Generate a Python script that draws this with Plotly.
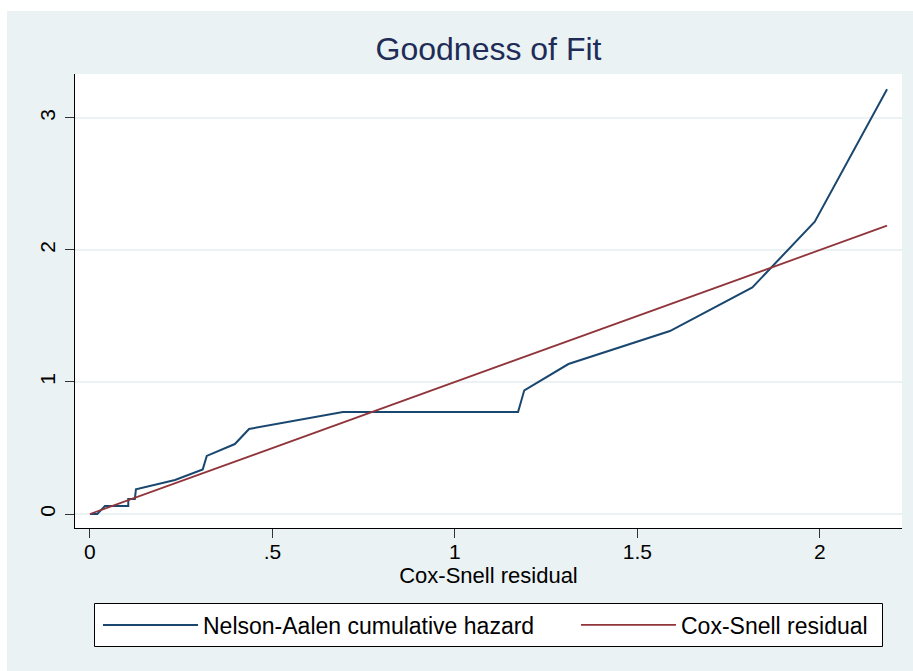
import plotly.graph_objects as go

# Nelson-Aalen cumulative hazard vs Cox-Snell residual
na_x = [0, 0.02, 0.041, 0.105, 0.105, 0.123, 0.126, 0.233, 0.309, 0.320, 0.397, 0.436,
        0.693, 1.173, 1.19, 1.311, 1.589, 1.815, 1.986, 2.184]
na_y = [0, 0, 0.06, 0.06, 0.114, 0.114, 0.187, 0.258, 0.338, 0.44, 0.53, 0.644,
        0.773, 0.773, 0.937, 1.136, 1.386, 1.717, 2.214, 3.217]
# Cox-Snell residuals (reference line r vs r)
cs_r = [0, 0.02, 0.041, 0.105, 0.123, 0.233, 0.309, 0.320, 0.397, 0.436,
        0.693, 1.173, 1.19, 1.311, 1.589, 1.815, 1.986, 2.184]

x_tickvals = [0, 0.5, 1, 1.5, 2]
x_ticktext = ["0", ".5", "1", "1.5", "2"]
y_tickvals = [0, 1, 2, 3]
y_ticktext = ["0", "1", "2", "3"]

BG = "#EAF2F3"
BLUE = "#1A476F"
RED = "#90353B"
FONT = "Liberation Sans, Arial, sans-serif"

fig = go.Figure()
fig.add_trace(go.Scatter(x=na_x, y=na_y, mode="lines", name="Nelson-Aalen cumulative hazard",
                         line=dict(color=BLUE, width=2), legendwidth=368))
fig.add_trace(go.Scatter(x=cs_r, y=cs_r, mode="lines", name="Cox-Snell residual",
                         line=dict(color=RED, width=1.8)))

W, H = 913, 671
L, R, T, B = 75, 11, 74, 143
pw, ph = W - L - R, H - T - B

def px2x(px):
    return (px - L) / pw

def py2y(py):
    return (H - B - py) / ph

fig.update_layout(
    width=W, height=H,
    margin=dict(l=L, r=R, t=T, b=B, autoexpand=False),
    paper_bgcolor=BG, plot_bgcolor="white",
    font=dict(family=FONT, size=21, color="black"),
    title=dict(text="Goodness of Fit", x=0.5, xanchor="center", xref="paper",
               y=1 - 49 / H, yanchor="middle", yref="container",
               font=dict(size=32, color="#1E2C57")),
    showlegend=True,
    legend=dict(orientation="h", x=px2x(98), xanchor="left", y=py2y(625), yanchor="middle",
                bgcolor="rgba(0,0,0,0)", borderwidth=0,
                itemwidth=95, font=dict(size=23)),
    xaxis=dict(range=[-0.041, 2.225], tickvals=x_tickvals, ticktext=x_ticktext,
               showgrid=False, zeroline=False, showline=True, linecolor="black", linewidth=1,
               ticks="outside", ticklen=9, tickcolor="#333333", tickwidth=1,
               ticklabelstandoff=-4,
               title=dict(text="Cox-Snell residual", standoff=0, font=dict(size=22)),
               tickfont=dict(size=21)),
    yaxis=dict(range=[-0.106, 3.333], tickvals=y_tickvals, ticktext=y_ticktext,
               showgrid=True, gridcolor=BG, gridwidth=1.5, zeroline=False,
               showline=True, linecolor="black", linewidth=1,
               ticks="outside", ticklen=9, tickcolor="#333333", tickwidth=1,
               tickangle=-90, ticklabelstandoff=2, tickfont=dict(size=21)),
    shapes=[
        dict(type="rect", xref="paper", yref="paper", x0=px2x(0), x1=px2x(W), y0=py2y(11), y1=py2y(0),
             fillcolor="white", line=dict(width=0), layer="below"),
        dict(type="rect", xref="paper", yref="paper", x0=px2x(0), x1=px2x(7), y0=py2y(H), y1=py2y(0),
             fillcolor="white", line=dict(width=0), layer="below"),
        # legend frame
        dict(type="rect", xref="paper", yref="paper", x0=px2x(94.5), x1=px2x(882.5),
             y0=py2y(646.5), y1=py2y(603.5),
             fillcolor="white", line=dict(color="black", width=1), layer="above"),
    ],
)

fig.write_html("out.html", config={"displayModeBar": False},
               post_script="document.body.style.margin='0px';")
